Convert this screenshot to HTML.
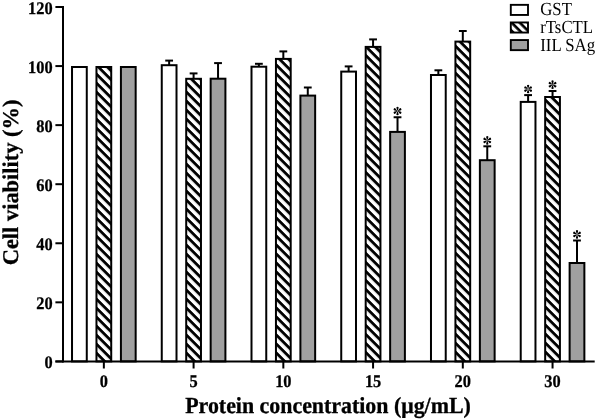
<!DOCTYPE html>
<html><head><meta charset="utf-8"><style>
html,body{margin:0;padding:0;background:#fff;}
svg{display:block;will-change:transform;}
text{font-family:"Liberation Serif",serif;text-rendering:geometricPrecision;}
</style></head><body>
<svg width="597" height="420" viewBox="0 0 597 420">
<defs>
<pattern id="h" patternUnits="userSpaceOnUse" width="20" height="6.364" patternTransform="translate(-2.6,0) rotate(45)">
<rect x="-1" y="0" width="22" height="2.9" fill="#000"/>
</pattern>
<pattern id="hl" patternUnits="userSpaceOnUse" width="20" height="5.798" patternTransform="translate(-1.15,0) rotate(45)">
<rect x="-1" y="0" width="22" height="2.616" fill="#000"/>
</pattern>
<path id="petal" d="M-0.3,-0.7 L-1.0,-2.75 A1.1,1.1 0 1 1 1.0,-2.75 L0.3,-0.7 Z"/>
<g id="star">
<use href="#petal"/><use href="#petal" transform="rotate(60)"/><use href="#petal" transform="rotate(120)"/>
<use href="#petal" transform="rotate(180)"/><use href="#petal" transform="rotate(240)"/><use href="#petal" transform="rotate(300)"/>
<circle r="0.8" fill="#555"/>
</g>
</defs>
<rect width="597" height="420" fill="#fff"/>

<rect x="72.02" y="67.00" width="14.75" height="294.40" fill="#fff" stroke="#000" stroke-width="2.0"/>
<rect x="96.47" y="67.00" width="14.75" height="294.40" fill="#fff"/>
<rect x="96.47" y="67.00" width="14.75" height="294.40" fill="url(#h)" stroke="#000" stroke-width="2.0"/>
<rect x="120.92" y="67.00" width="14.75" height="294.40" fill="#a0a0a0" stroke="#000" stroke-width="2.0"/>
<rect x="161.76" y="65.20" width="14.75" height="296.20" fill="#fff" stroke="#000" stroke-width="2.0"/>
<line x1="169.14" y1="60.60" x2="169.14" y2="65.20" stroke="#000" stroke-width="2.0"/>
<line x1="165.24" y1="60.60" x2="173.04" y2="60.60" stroke="#000" stroke-width="2.0"/>
<rect x="186.21" y="78.80" width="14.75" height="282.60" fill="#fff"/>
<rect x="186.21" y="78.80" width="14.75" height="282.60" fill="url(#h)" stroke="#000" stroke-width="2.0"/>
<line x1="193.59" y1="73.40" x2="193.59" y2="78.80" stroke="#000" stroke-width="2.0"/>
<line x1="189.69" y1="73.40" x2="197.49" y2="73.40" stroke="#000" stroke-width="2.0"/>
<rect x="210.66" y="78.70" width="14.75" height="282.70" fill="#a0a0a0" stroke="#000" stroke-width="2.0"/>
<line x1="218.04" y1="63.10" x2="218.04" y2="78.70" stroke="#000" stroke-width="2.0"/>
<line x1="214.14" y1="63.10" x2="221.94" y2="63.10" stroke="#000" stroke-width="2.0"/>
<rect x="251.50" y="66.70" width="14.75" height="294.70" fill="#fff" stroke="#000" stroke-width="2.0"/>
<line x1="258.88" y1="63.80" x2="258.88" y2="66.70" stroke="#000" stroke-width="2.0"/>
<line x1="254.98" y1="63.80" x2="262.78" y2="63.80" stroke="#000" stroke-width="2.0"/>
<rect x="275.95" y="58.90" width="14.75" height="302.50" fill="#fff"/>
<rect x="275.95" y="58.90" width="14.75" height="302.50" fill="url(#h)" stroke="#000" stroke-width="2.0"/>
<line x1="283.33" y1="51.40" x2="283.33" y2="58.90" stroke="#000" stroke-width="2.0"/>
<line x1="279.43" y1="51.40" x2="287.23" y2="51.40" stroke="#000" stroke-width="2.0"/>
<rect x="300.40" y="95.60" width="14.75" height="265.80" fill="#a0a0a0" stroke="#000" stroke-width="2.0"/>
<line x1="307.78" y1="87.50" x2="307.78" y2="95.60" stroke="#000" stroke-width="2.0"/>
<line x1="303.88" y1="87.50" x2="311.68" y2="87.50" stroke="#000" stroke-width="2.0"/>
<rect x="341.24" y="71.60" width="14.75" height="289.80" fill="#fff" stroke="#000" stroke-width="2.0"/>
<line x1="348.62" y1="66.40" x2="348.62" y2="71.60" stroke="#000" stroke-width="2.0"/>
<line x1="344.72" y1="66.40" x2="352.52" y2="66.40" stroke="#000" stroke-width="2.0"/>
<rect x="365.69" y="46.90" width="14.75" height="314.50" fill="#fff"/>
<rect x="365.69" y="46.90" width="14.75" height="314.50" fill="url(#h)" stroke="#000" stroke-width="2.0"/>
<line x1="373.07" y1="39.40" x2="373.07" y2="46.90" stroke="#000" stroke-width="2.0"/>
<line x1="369.17" y1="39.40" x2="376.97" y2="39.40" stroke="#000" stroke-width="2.0"/>
<rect x="390.14" y="131.90" width="14.75" height="229.50" fill="#a0a0a0" stroke="#000" stroke-width="2.0"/>
<line x1="397.52" y1="117.25" x2="397.52" y2="131.90" stroke="#000" stroke-width="2.0"/>
<line x1="393.62" y1="117.25" x2="401.42" y2="117.25" stroke="#000" stroke-width="2.0"/>
<use href="#star" transform="translate(397.52,111.00)"/>
<rect x="430.98" y="75.00" width="14.75" height="286.40" fill="#fff" stroke="#000" stroke-width="2.0"/>
<line x1="438.36" y1="70.30" x2="438.36" y2="75.00" stroke="#000" stroke-width="2.0"/>
<line x1="434.46" y1="70.30" x2="442.26" y2="70.30" stroke="#000" stroke-width="2.0"/>
<rect x="455.43" y="41.60" width="14.75" height="319.80" fill="#fff"/>
<rect x="455.43" y="41.60" width="14.75" height="319.80" fill="url(#h)" stroke="#000" stroke-width="2.0"/>
<line x1="462.81" y1="31.00" x2="462.81" y2="41.60" stroke="#000" stroke-width="2.0"/>
<line x1="458.91" y1="31.00" x2="466.71" y2="31.00" stroke="#000" stroke-width="2.0"/>
<rect x="479.88" y="160.20" width="14.75" height="201.20" fill="#a0a0a0" stroke="#000" stroke-width="2.0"/>
<line x1="487.26" y1="146.30" x2="487.26" y2="160.20" stroke="#000" stroke-width="2.0"/>
<line x1="483.36" y1="146.30" x2="491.16" y2="146.30" stroke="#000" stroke-width="2.0"/>
<use href="#star" transform="translate(487.26,140.40)"/>
<rect x="520.72" y="101.90" width="14.75" height="259.50" fill="#fff" stroke="#000" stroke-width="2.0"/>
<line x1="528.10" y1="95.10" x2="528.10" y2="101.90" stroke="#000" stroke-width="2.0"/>
<line x1="524.20" y1="95.10" x2="532.00" y2="95.10" stroke="#000" stroke-width="2.0"/>
<use href="#star" transform="translate(528.10,89.05)"/>
<rect x="545.17" y="97.00" width="14.75" height="264.40" fill="#fff"/>
<rect x="545.17" y="97.00" width="14.75" height="264.40" fill="url(#h)" stroke="#000" stroke-width="2.0"/>
<line x1="552.55" y1="91.00" x2="552.55" y2="97.00" stroke="#000" stroke-width="2.0"/>
<line x1="548.65" y1="91.00" x2="556.45" y2="91.00" stroke="#000" stroke-width="2.0"/>
<use href="#star" transform="translate(552.55,84.65)"/>
<rect x="569.62" y="263.00" width="14.75" height="98.40" fill="#a0a0a0" stroke="#000" stroke-width="2.0"/>
<line x1="577.00" y1="240.50" x2="577.00" y2="263.00" stroke="#000" stroke-width="2.0"/>
<line x1="573.10" y1="240.50" x2="580.90" y2="240.50" stroke="#000" stroke-width="2.0"/>
<use href="#star" transform="translate(577.00,234.40)"/>
<line x1="63" y1="6" x2="63" y2="362.4" stroke="#000" stroke-width="2"/>
<line x1="55.4" y1="361.4" x2="594.7" y2="361.4" stroke="#000" stroke-width="2"/>
<line x1="55.4" y1="361.40" x2="63" y2="361.40" stroke="#000" stroke-width="2"/>
<text transform="translate(52.7,368.20) scale(1,1.08)" font-size="16.4" font-weight="bold" text-anchor="end" fill="#000" stroke="#000" stroke-width="0.25">0</text>
<line x1="55.4" y1="302.33" x2="63" y2="302.33" stroke="#000" stroke-width="2"/>
<text transform="translate(52.7,309.13) scale(1,1.08)" font-size="16.4" font-weight="bold" text-anchor="end" fill="#000" stroke="#000" stroke-width="0.25">20</text>
<line x1="55.4" y1="243.27" x2="63" y2="243.27" stroke="#000" stroke-width="2"/>
<text transform="translate(52.7,250.07) scale(1,1.08)" font-size="16.4" font-weight="bold" text-anchor="end" fill="#000" stroke="#000" stroke-width="0.25">40</text>
<line x1="55.4" y1="184.20" x2="63" y2="184.20" stroke="#000" stroke-width="2"/>
<text transform="translate(52.7,191.00) scale(1,1.08)" font-size="16.4" font-weight="bold" text-anchor="end" fill="#000" stroke="#000" stroke-width="0.25">60</text>
<line x1="55.4" y1="125.13" x2="63" y2="125.13" stroke="#000" stroke-width="2"/>
<text transform="translate(52.7,131.93) scale(1,1.08)" font-size="16.4" font-weight="bold" text-anchor="end" fill="#000" stroke="#000" stroke-width="0.25">80</text>
<line x1="55.4" y1="66.07" x2="63" y2="66.07" stroke="#000" stroke-width="2"/>
<text transform="translate(52.7,72.87) scale(1,1.08)" font-size="16.4" font-weight="bold" text-anchor="end" fill="#000" stroke="#000" stroke-width="0.25">100</text>
<line x1="55.4" y1="7.00" x2="63" y2="7.00" stroke="#000" stroke-width="2"/>
<text transform="translate(52.7,13.80) scale(1,1.08)" font-size="16.4" font-weight="bold" text-anchor="end" fill="#000" stroke="#000" stroke-width="0.25">120</text>
<line x1="103.85" y1="361.4" x2="103.85" y2="368.5" stroke="#000" stroke-width="2"/>
<text transform="translate(103.85,386.9) scale(1,1.09)" font-size="16.4" font-weight="bold" text-anchor="middle" fill="#000" stroke="#000" stroke-width="0.25">0</text>
<line x1="193.59" y1="361.4" x2="193.59" y2="368.5" stroke="#000" stroke-width="2"/>
<text transform="translate(193.59,386.9) scale(1,1.09)" font-size="16.4" font-weight="bold" text-anchor="middle" fill="#000" stroke="#000" stroke-width="0.25">5</text>
<line x1="283.33" y1="361.4" x2="283.33" y2="368.5" stroke="#000" stroke-width="2"/>
<text transform="translate(283.33,386.9) scale(1,1.09)" font-size="16.4" font-weight="bold" text-anchor="middle" fill="#000" stroke="#000" stroke-width="0.25">10</text>
<line x1="373.07" y1="361.4" x2="373.07" y2="368.5" stroke="#000" stroke-width="2"/>
<text transform="translate(373.07,386.9) scale(1,1.09)" font-size="16.4" font-weight="bold" text-anchor="middle" fill="#000" stroke="#000" stroke-width="0.25">15</text>
<line x1="462.81" y1="361.4" x2="462.81" y2="368.5" stroke="#000" stroke-width="2"/>
<text transform="translate(462.81,386.9) scale(1,1.09)" font-size="16.4" font-weight="bold" text-anchor="middle" fill="#000" stroke="#000" stroke-width="0.25">20</text>
<line x1="552.55" y1="361.4" x2="552.55" y2="368.5" stroke="#000" stroke-width="2"/>
<text transform="translate(552.55,386.9) scale(1,1.09)" font-size="16.4" font-weight="bold" text-anchor="middle" fill="#000" stroke="#000" stroke-width="0.25">30</text>
<text transform="translate(328,413.4) scale(1,1.05)" font-size="21.9" font-weight="bold" text-anchor="middle" fill="#000" stroke="#000" stroke-width="0.3">Protein concentration (μg/mL)</text>
<text transform="translate(17.6,182.4) rotate(-90)" font-size="22.45" font-weight="bold" text-anchor="middle" fill="#000" stroke="#000" stroke-width="0.3">Cell viability (%)</text>
<rect x="510.8" y="4.85" width="17.2" height="10.1" fill="#fff" stroke="#000" stroke-width="1.9"/>
<text transform="translate(540.2,15.00) scale(1,1.1)" font-size="16.8" fill="#000">GST</text>
<rect x="510.8" y="22.45" width="17.2" height="10.1" fill="#fff"/>
<rect x="510.8" y="22.45" width="17.2" height="10.1" fill="url(#hl)" stroke="#000" stroke-width="1.9"/>
<text transform="translate(540.2,32.90) scale(1,1.1)" font-size="16.8" fill="#000">rTsCTL</text>
<rect x="510.8" y="40.05" width="17.2" height="10.1" fill="#a0a0a0" stroke="#000" stroke-width="1.9"/>
<text transform="translate(540.2,50.80) scale(1,1.1)" font-size="16.8" fill="#000">IIL SAg</text>
</svg>
</body></html>
